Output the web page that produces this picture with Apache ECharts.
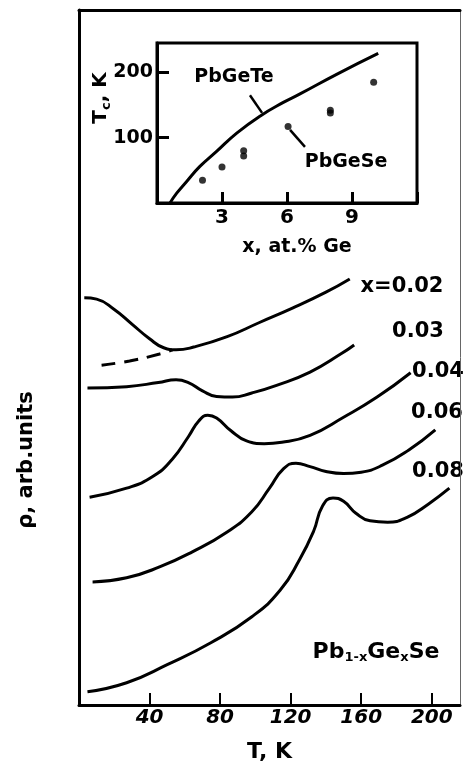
<!DOCTYPE html>
<html>
<head>
<meta charset="utf-8">
<script src="https://cdn.jsdelivr.net/npm/echarts@6/dist/echarts.min.js"></script>
<style>
  html, body { margin: 0; background: #fff; }
  #chart { width: 464px; height: 772px; }
</style>
</head>
<body>
<div id="chart"></div>
<script>
// main panel: resistivity vs T (arb. units), one curve per composition
let curve002 = [[3, 58.6], [10, 58.4], [20, 56.9], [30, 54.8], [40, 52.7], [48, 51.4], [55, 51.1], [65, 51.5], [84, 53.0], [102, 55.0], [121, 57.1], [140, 59.4], [153.5, 61.3]];
let curve002dash = [[12.8, 48.9], [28.7, 49.5], [45.7, 50.5], [53, 51.1]];
let curve003 = [[4.8, 45.6], [27, 45.8], [45, 46.4], [55, 46.8], [62, 46.4], [70, 45.2], [78, 44.4], [87, 44.3], [98, 44.9], [112, 46.0], [131, 47.9], [149, 50.6], [156, 51.8]];
let curve004 = [[6, 29.9], [27, 31.2], [42, 32.9], [53, 35.4], [62, 38.6], [68, 40.9], [73, 41.7], [78, 41.3], [86, 39.5], [95, 38.0], [105, 37.6], [115, 37.8], [131, 38.8], [150, 41.4], [169, 44.3], [188, 47.8]];
let curve006 = [[7.7, 17.7], [27, 18.3], [46, 19.9], [64, 22.0], [84, 24.9], [98, 27.8], [108, 31.2], [116, 34.0], [123, 34.8], [131, 34.3], [140, 33.6], [150, 33.3], [160, 33.5], [172, 34.5], [187, 36.7], [202, 39.6]];
let curve008 = [[4.8, 1.9], [27, 3.2], [50, 5.8], [75, 9.0], [98, 12.7], [114, 16.5], [125, 20.9], [133, 25.0], [138, 28.6], [144, 29.8], [150, 29.3], [157, 27.6], [165, 26.5], [175, 26.3], [186, 27.0], [198, 28.9], [210, 31.2]];

// inset: Tc vs Ge content
let pbgeteLine = [[0.6, 0], [0.91, 15], [1.37, 33], [1.98, 56], [2.75, 79], [3.68, 107], [4.75, 133], [5.83, 154], [6.6, 167], [8.29, 197], [10.21, 229]];
let pbgeseDots = [[2.1, 35], [3.0, 55], [4.0, 72], [4.0, 80], [6.05, 117], [8.0, 138], [8.0, 142], [10, 185]];
let teLeader = [[4.29, 165], [4.85, 138]];
let seLeader = [[6.14, 112], [6.83, 86]];

let fontFam = 'DejaVu Sans';

let mainLine = (data, dashed) => {
  return {
    type: 'line',
    xAxisIndex: 0,
    yAxisIndex: 0,
    data: data,
    smooth: 0.5,
    showSymbol: false,
    silent: true,
    lineStyle: { color: '#000', width: 3, type: dashed ? [14, 9] : 'solid' }
  };
}

let label = (text, x, y, size, extra) => {
  return Object.assign({
    type: 'text',
    x: x,
    y: y,
    style: {
      text: text,
      fill: '#000',
      font: 'bold ' + size + 'px "' + fontFam + '"',
      align: 'center',
      verticalAlign: 'middle',
      textAlign: 'center',
      textVerticalAlign: 'middle'
    }
  }, extra || {});
}

let subRich = {
  s: { fontSize: 13, fontWeight: 'bold', fontFamily: fontFam, fill: '#000', padding: [12, 0, 0, 0] }
};

let chart = echarts.init(document.getElementById('chart'));

let options = {
  animation: false,
  grid: [
    { left: 79, right: 4, top: 10, bottom: 67 },
    { left: 157, right: 47, top: 43, bottom: 569, show: true, borderColor: '#000', borderWidth: 3 }
  ],
  xAxis: [
    {
      gridIndex: 0, type: 'value', min: 0, max: 216, interval: 40,
      name: 'T, K', nameLocation: 'middle', nameGap: 36,
      nameTextStyle: { fontSize: 22, fontWeight: 'bold', fontFamily: fontFam, color: '#000' },
      axisLine: { onZero: false, lineStyle: { color: '#000', width: 3 } },
      axisTick: { inside: true, length: 12, lineStyle: { color: '#000', width: 2 } },
      axisLabel: {
        margin: 3, color: '#000', fontSize: 20, fontWeight: 'bold', fontStyle: 'italic', fontFamily: fontFam,
        formatter: (v) => v === 0 ? '' : v
      },
      splitLine: { show: false }
    },
    {
      gridIndex: 0, type: 'value', position: 'top', min: 0, max: 216,
      axisLine: { show: true, onZero: false, lineStyle: { color: '#000', width: 3 } },
      axisTick: { show: false }, axisLabel: { show: false }, splitLine: { show: false }
    },
    {
      gridIndex: 1, type: 'value', min: 0, max: 12, interval: 3,
      axisLine: { onZero: false, lineStyle: { color: '#000', width: 3 } },
      axisTick: { inside: true, length: 11, lineStyle: { color: '#000', width: 3 } },
      axisLabel: {
        margin: 5, color: '#000', fontSize: 20, fontWeight: 'bold', fontFamily: fontFam,
        formatter: (v) => (v === 0 || v === 12) ? '' : v
      },
      splitLine: { show: false }
    }
  ],
  yAxis: [
    {
      gridIndex: 0, type: 'value', min: 0, max: 100,
      axisLine: { show: true, onZero: false, lineStyle: { color: '#000', width: 3 } },
      axisTick: { show: false }, axisLabel: { show: false }, splitLine: { show: false }
    },
    {
      gridIndex: 0, type: 'value', position: 'right', min: 0, max: 100,
      axisLine: { show: true, onZero: false, lineStyle: { color: '#666', width: 1 } },
      axisTick: { show: false }, axisLabel: { show: false }, splitLine: { show: false }
    },
    {
      gridIndex: 1, type: 'value', min: 0, max: 245, interval: 100,
      axisLine: { show: true, onZero: false, lineStyle: { color: '#000', width: 3 } },
      axisTick: { inside: true, length: 12, lineStyle: { color: '#000', width: 3 } },
      axisLabel: {
        margin: 4, color: '#000', fontSize: 19, fontWeight: 'bold', fontFamily: fontFam,
        showMaxLabel: false,
        formatter: (v) => (v === 100 || v === 200) ? v : ''
      },
      splitLine: { show: false }
    }
  ],
  series: [
    mainLine(curve002),
    mainLine(curve002dash, true),
    mainLine(curve003),
    mainLine(curve004),
    mainLine(curve006),
    mainLine(curve008),
    {
      type: 'line', xAxisIndex: 2, yAxisIndex: 2, data: pbgeteLine,
      smooth: 0.5, showSymbol: false, silent: true,
      lineStyle: { color: '#000', width: 3 }
    },
    {
      type: 'scatter', xAxisIndex: 2, yAxisIndex: 2, data: pbgeseDots,
      symbol: 'circle', symbolSize: 7, silent: true,
      itemStyle: { color: '#000' }
    },
    {
      type: 'line', xAxisIndex: 2, yAxisIndex: 2, data: teLeader,
      showSymbol: false, silent: true, lineStyle: { color: '#000', width: 2.5 }
    },
    {
      type: 'line', xAxisIndex: 2, yAxisIndex: 2, data: seLeader,
      showSymbol: false, silent: true, lineStyle: { color: '#000', width: 2.5 }
    }
  ],
  graphic: [
    label('ρ, arb.units', 27, 460, 21, { rotation: Math.PI / 2 }),
    label('x=0.02', 402, 287, 21),
    label('0.03', 418, 332, 21),
    label('0.04', 438, 372, 21),
    label('0.06', 437, 413, 21),
    label('0.08', 438, 472, 21),
    {
      type: 'text', x: 376, y: 652,
      style: {
        text: 'Pb{s|1-x}Ge{s|x}Se', rich: subRich, fill: '#000',
        font: 'bold 22px "' + fontFam + '"',
        align: 'center', verticalAlign: 'middle', textAlign: 'center', textVerticalAlign: 'middle'
      }
    },
    label('PbGeTe', 234, 77, 19),
    label('PbGeSe', 346, 162, 19),
    label('x, at.% Ge', 297, 247, 19),
    {
      type: 'text', x: 101, y: 98, rotation: Math.PI / 2,
      style: {
        text: 'T{s|c}, K', rich: subRich, fill: '#000',
        font: 'bold 20px "' + fontFam + '"',
        align: 'center', verticalAlign: 'middle', textAlign: 'center', textVerticalAlign: 'middle'
      }
    }
  ]
};

chart.setOption(options);
</script>
</body>
</html>
